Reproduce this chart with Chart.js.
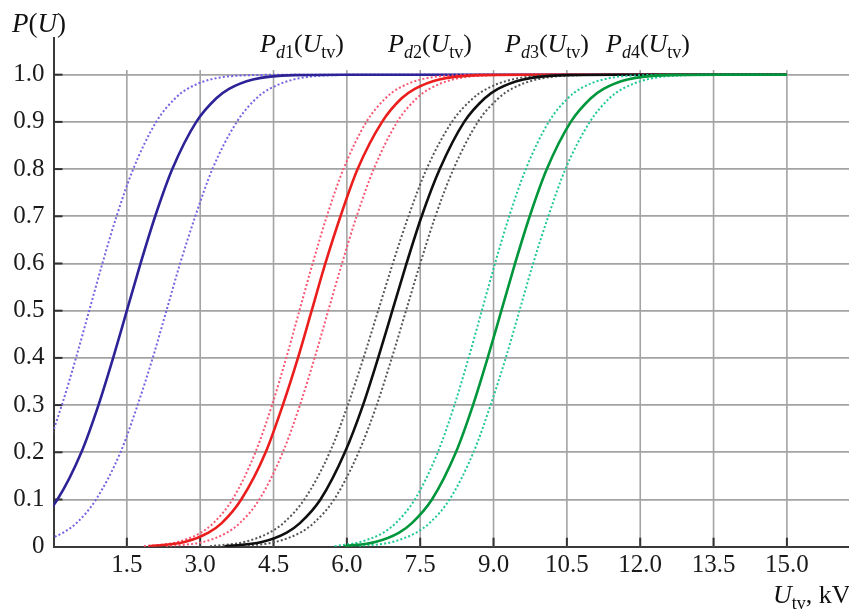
<!DOCTYPE html>
<html><head><meta charset="utf-8">
<script src="https://cdn.jsdelivr.net/npm/chart.js@4/dist/chart.umd.min.js"></script>
<style>html,body{margin:0;padding:0;background:#fff}canvas{display:block}</style>
</head><body>
<canvas id="c" width="849" height="612"></canvas>
<script>
// ---- tick labels ----
const xTicks = [1.5, 3.0, 4.5, 6.0, 7.5, 9.0, 10.5, 12.0, 13.5, 15.0];
const xTickLabels = ['1.5','3.0','4.5','6.0','7.5','9.0','10.5','12.0','13.5','15.0'];
const yTicks = [0, 0.1, 0.2, 0.3, 0.4, 0.5, 0.6, 0.7, 0.8, 0.9, 1.0];
const yTickLabels = ['0','0.1','0.2','0.3','0.4','0.5','0.6','0.7','0.8','0.9','1.0'];
const curveNames = ['1','2','3','4'];

// probability levels (y) shared by every curve; x values for each level
const levels = [0.001, 0.01, 0.03, 0.05, 0.1, 0.2, 0.3, 0.4, 0.5, 0.6, 0.7, 0.8, 0.9, 0.95, 0.97, 0.99, 0.999, 1, 1];

// ---- Pd1 (kV at each level) ----
const pd1Mid  = [-1.93, -1.08, -0.59, -0.33, 0.08, 0.57, 0.92, 1.22, 1.50, 1.78, 2.08, 2.43, 2.92, 3.33, 3.59, 4.08, 4.93, 5.94, 15];
const pd1Low  = [-2.58, -1.76, -1.28, -1.03, -0.64, -0.17, 0.17, 0.46, 0.73, 1.00, 1.29, 1.63, 2.10, 2.49, 2.74, 3.22, 4.04, 5.01, 15];
const pd1High = [-1.15, -0.30, 0.20, 0.47, 0.87, 1.37, 1.72, 2.03, 2.31, 2.59, 2.90, 3.25, 3.75, 4.15, 4.42, 4.92, 5.77, 6.79, 15];
// ---- Pd2 ----
const pd2Mid  = [1.95, 2.68, 3.17, 3.44, 3.84, 4.34, 4.69, 5.00, 5.28, 5.56, 5.87, 6.22, 6.72, 7.12, 7.39, 7.89, 8.74, 9.76, 15];
const pd2Low  = [1.85, 2.54, 3.02, 3.27, 3.66, 4.13, 4.47, 4.76, 5.03, 5.30, 5.59, 5.93, 6.40, 6.79, 7.04, 7.52, 8.34, 9.31, 15];
const pd2High = [2.30, 3.06, 3.55, 3.81, 4.21, 4.69, 5.04, 5.34, 5.62, 5.90, 6.20, 6.55, 7.03, 7.43, 7.69, 8.18, 9.02, 10.02, 15];
// ---- Pd3 ----
const pd3Mid  = [3.50, 4.26, 4.77, 5.04, 5.46, 5.96, 6.33, 6.64, 6.93, 7.22, 7.53, 7.90, 8.40, 8.82, 9.09, 9.61, 10.48, 11.53, 15];
const pd3Low  = [3.20, 3.90, 4.42, 4.70, 5.13, 5.65, 6.02, 6.34, 6.64, 6.94, 7.26, 7.63, 8.15, 8.58, 8.86, 9.39, 10.29, 11.36, 15];
const pd3High = [3.80, 4.54, 5.05, 5.32, 5.74, 6.24, 6.61, 6.92, 7.21, 7.50, 7.81, 8.18, 8.68, 9.10, 9.37, 9.89, 10.76, 11.81, 15];
// ---- Pd4 ----
const pd4Mid  = [5.95, 6.58, 7.07, 7.33, 7.74, 8.23, 8.58, 8.88, 9.16, 9.44, 9.74, 10.09, 10.58, 10.99, 11.25, 11.74, 12.59, 13.60, 15];
const pd4Low  = [5.75, 6.27, 6.75, 7.00, 7.39, 7.86, 8.20, 8.49, 8.76, 9.03, 9.32, 9.66, 10.13, 10.52, 10.77, 11.25, 12.07, 13.04, 15];
const pd4High = [6.25, 6.93, 7.42, 7.69, 8.10, 8.59, 8.94, 9.25, 9.53, 9.81, 10.12, 10.47, 10.97, 11.37, 11.64, 12.14, 12.99, 14.01, 15];

const FONT = '"Liberation Serif", "DejaVu Serif", serif';
const pts = xs => xs.map((x, i) => ({x, y: levels[i]}));
function solid(xs, color, order) {
  return {data: pts(xs), borderColor: color, borderWidth: 2.6, pointRadius: 0,
    cubicInterpolationMode: 'monotone', fill: false, order};
}
function dotted(xs, color, order) {
  return {data: pts(xs), borderColor: color, borderWidth: 2, borderDash: [2, 2.2], pointRadius: 0,
    cubicInterpolationMode: 'monotone', fill: false, order, borderCapStyle: 'butt'};
}
const datasets = [
  dotted(pd1Low, 'rgb(115,100,225)', 9), dotted(pd1High, 'rgb(115,100,225)', 9),
  solid(pd1Mid, 'rgb(45,35,150)', 8),
  dotted(pd2Low, 'rgb(248,85,115)', 7), dotted(pd2High, 'rgb(248,85,115)', 7),
  solid(pd2Mid, 'rgb(235,30,30)', 6),
  dotted(pd3Low, 'rgb(85,85,85)', 5), dotted(pd3High, 'rgb(85,85,85)', 5),
  solid(pd3Mid, 'rgb(15,15,15)', 4),
  dotted(pd4Low, 'rgb(30,200,150)', 3), dotted(pd4High, 'rgb(30,200,150)', 3),
  solid(pd4Mid, 'rgb(0,150,60)', 2)
];

function drawRich(ctx, x, y, segs, size) {
  let cx = x;
  ctx.textAlign = 'left'; ctx.textBaseline = 'alphabetic';
  segs.forEach(s => {
    const fs = s.sub ? Math.round(size * 0.7) : size;
    ctx.font = (s.it ? 'italic ' : '') + fs + 'px ' + FONT;
    ctx.fillText(s.t, cx, y + (s.sub ? size * 0.22 : 0));
    cx += ctx.measureText(s.t).width;
  });
}

const decor = {
  id: 'decor',
  beforeDatasetsDraw(chart) {
    const {ctx, scales: {x, y}, chartArea: a} = chart;
    ctx.save();
    ctx.strokeStyle = '#a3a3a3'; ctx.lineWidth = 1.6;
    xTicks.forEach(v => {
      const px = x.getPixelForValue(v);
      ctx.beginPath(); ctx.moveTo(px, y.getPixelForValue(0)); ctx.lineTo(px, y.getPixelForValue(1.01)); ctx.stroke();
    });
    ctx.strokeStyle = '#333'; ctx.lineWidth = 2;
    xTicks.forEach(v => {
      const px = x.getPixelForValue(v);
      ctx.beginPath(); ctx.moveTo(px, a.bottom); ctx.lineTo(px, a.bottom - 9); ctx.stroke();
    });
    yTicks.slice(1).forEach(v => {
      const py = y.getPixelForValue(v);
      ctx.beginPath(); ctx.moveTo(a.left, py); ctx.lineTo(a.left + 9, py); ctx.stroke();
    });
    ctx.restore();
  },
  afterDraw(chart) {
    const {ctx} = chart;
    ctx.save();
    ctx.fillStyle = '#111';
    drawRich(ctx, 12, 32, [{t:'P',it:1},{t:'('},{t:'U',it:1},{t:')'}], 27);
    const starts = [260, 388, 505, 606];
    curveNames.forEach((n, i) => {
      drawRich(ctx, starts[i], 52, [{t:'P',it:1},{t:'d',it:1,sub:1},{t:n,sub:1},{t:'('},{t:'U',it:1},{t:'tv',sub:1},{t:')'}], 26);
    });
    drawRich(ctx, 773, 603, [{t:'U',it:1},{t:'tv',sub:1},{t:', kV'}], 26);
    ctx.restore();
  }
};

new Chart(document.getElementById('c'), {
  type: 'line',
  data: {datasets},
  options: {
    responsive: false, animation: false, devicePixelRatio: 1,
    layout: {padding: {top: 38, right: 0, left: 0, bottom: 0}},
    plugins: {legend: {display: false}, tooltip: {enabled: false}},
    scales: {
      x: {type: 'linear', min: 0, max: 16.27,
        afterBuildTicks: s => { s.ticks = xTicks.map(v => ({value: v})); },
        afterFit: s => { s.height = 65.3; },
        grid: {display: false, drawTicks: false},
        border: {display: true, color: '#3a3a3a', width: 2},
        ticks: {callback: (v, i) => xTickLabels[i], font: {family: FONT, size: 25}, color: '#1a1a1a',
          padding: 4, maxRotation: 0, autoSkip: false}},
      y: {type: 'linear', min: 0, max: 1.0777,
        afterBuildTicks: s => { s.ticks = yTicks.map(v => ({value: v})); },
        afterFit: s => { s.width = 53.5; },
        grid: {color: '#a3a3a3', lineWidth: 1.8, drawTicks: false},
        border: {display: true, color: '#3a3a3a', width: 2},
        ticks: {callback: (v, i) => yTickLabels[i], font: {family: FONT, size: 25}, color: '#1a1a1a',
          padding: 9, autoSkip: false}}
    }
  },
  plugins: [decor]
});
</script>
</body></html>
